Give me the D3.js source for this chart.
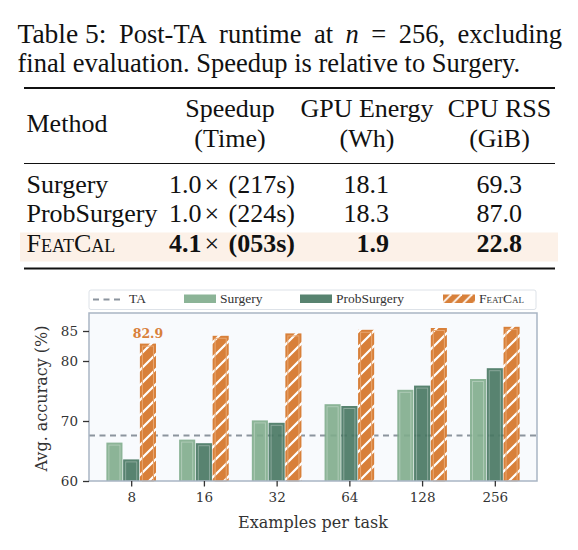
<!DOCTYPE html>
<html>
<head>
<meta charset="utf-8">
<script src="https://cdn.jsdelivr.net/npm/d3@7"></script>
<style>
  body { margin: 0; background: #fff; }
  svg { display: block; }
</style>
</head>
<body>
<script>
// ---- data ----
const groups = ['8', '16', '32', '64', '128', '256'];
const series = ['Surgery', 'ProbSurgery', 'FeatCal'];
const surgery = [66.4, 66.9, 70.1, 72.8, 75.2, 77.0];
const probSurgery = [63.6, 66.3, 69.7, 72.5, 75.9, 78.8];
const featCal = [82.9, 84.2, 84.6, 85.2, 85.5, 85.7];
const taLevel = 67.6;
const yTicks = [60, 70, 80, 85];

const tableHeader = [['Method'], ['Speedup', '(Time)'], ['GPU Energy', '(Wh)'], ['CPU RSS', '(GiB)']];
const tableRows = [
  ['Surgery', ['1.0', '(217s)'], '18.1', '69.3'],
  ['ProbSurgery', ['1.0', '(224s)'], '18.3', '87.0'],
  ['FeatCal', ['4.1', '(053s)'], '1.9', '22.8'],
];

const colors = { Surgery: '#7fac8c', ProbSurgery: '#467561', FeatCal: '#d8803a' };
const values = { Surgery: surgery, ProbSurgery: probSurgery, FeatCal: featCal };

const serif = '"Liberation Serif", "Times New Roman", serif';
const dserif = '"DejaVu Serif", serif';

const svg = d3.select('body').append('svg')
  .attr('width', 578)
  .attr('height', 550);

svg.append('rect').attr('width', 578).attr('height', 550).attr('fill', '#fff');

// ---- caption (first line justified like LaTeX) ----
const cap = svg.append('g').attr('font-family', serif).attr('fill', '#111').attr('font-size', 26.5);
const capWords = [
  { t: 'Table 5:', size: 27.5 },
  { t: 'Post-TA' }, { t: 'runtime' }, { t: 'at' },
  { t: 'n', italic: true }, { t: '=' }, { t: '256,' }, { t: 'excluding' },
];
const capStart = 17.5, capEnd = 562;
const wordEls = capWords.map(w => cap.append('text')
  .attr('y', 43)
  .attr('font-size', w.size || null)
  .attr('font-style', w.italic ? 'italic' : null)
  .text(w.t));
const widths = wordEls.map(el => el.node().getComputedTextLength());
const gap = (capEnd - capStart - d3.sum(widths)) / (capWords.length - 1);
let cx = capStart;
wordEls.forEach((el, i) => { el.attr('x', cx); cx += widths[i] + gap; });

cap.append('text').attr('x', capStart).attr('y', 71.5)
  .text('final evaluation. Speedup is relative to Surgery.');

// ---- table ----
const table = svg.append('g').attr('font-family', serif).attr('font-size', 26).attr('fill', '#111');
const colX = [26.5, 230, 367, 499.5];
const valX = [26.5, 295, 389, 522];
const rowY = [193.3, 221.7, 252.3];

table.append('rect')
  .attr('x', 20).attr('y', 232.5).attr('width', 538).attr('height', 29)
  .attr('fill', '#fcf1e8');

[[88, 2], [163.5, 1.2], [268.5, 2]].forEach(([yy, w]) => {
  table.append('line')
    .attr('x1', 24).attr('x2', 555).attr('y1', yy).attr('y2', yy)
    .attr('stroke', '#111').attr('stroke-width', w);
});

tableHeader.forEach((lines, i) => {
  if (lines.length === 1) {
    table.append('text').attr('x', colX[i]).attr('y', 131.7).text(lines[0]);
  } else {
    lines.forEach((t, j) => {
      table.append('text').attr('x', colX[i]).attr('y', j === 0 ? 117.3 : 146.5)
        .attr('text-anchor', 'middle').text(t);
    });
  }
});

tableRows.forEach((row, r) => {
  const last = r === tableRows.length - 1;
  row.forEach((cell, c) => {
    const el = table.append('text')
      .attr('x', valX[c]).attr('y', rowY[r])
      .attr('text-anchor', c === 0 ? 'start' : 'end');
    if (Array.isArray(cell)) {
      el.append('tspan').text(cell[0]);
      el.append('tspan').attr('dx', 3).attr('font-weight', 'normal').text('\u00d7');
      el.append('tspan').attr('dx', 3).text(' ' + cell[1]);
    } else {
      el.text(cell);
    }
    if (last && c === 0) el.style('font-variant', 'small-caps');
    if (last && c > 0) el.attr('font-weight', 'bold');
  });
});

// ---- chart ----
const plotL = 89, plotR = 537, plotT = 313, plotB = 481;

const x = d3.scalePoint().domain(groups).range([plotL, plotR]).padding(0.58);
const xs = d3.scaleBand().domain(series).range([-24.8, 24.8]).paddingInner(0.04);
const y = d3.scaleLinear().domain([60, 88]).range([plotB, plotT]);

const defs = svg.append('defs');
const hatch = defs.append('pattern')
  .attr('id', 'hatch').attr('patternUnits', 'userSpaceOnUse')
  .attr('width', 15).attr('height', 15);
hatch.append('rect').attr('width', 15).attr('height', 15).attr('fill', colors.FeatCal);
hatch.append('path')
  .attr('d', 'M-2,17 L17,-2 M-2,2 L2,-2 M13,17 L17,13')
  .attr('stroke', '#fff').attr('stroke-width', 2.2);

const hatchSmall = defs.append('pattern')
  .attr('id', 'hatchSmall').attr('patternUnits', 'userSpaceOnUse')
  .attr('width', 10.5).attr('height', 10.5);
hatchSmall.append('rect').attr('width', 10.5).attr('height', 10.5).attr('fill', colors.FeatCal);
hatchSmall.append('path')
  .attr('d', 'M-2,12.5 L12.5,-2')
  .attr('stroke', '#fff').attr('stroke-width', 1.8);

svg.append('rect')
  .attr('x', plotL).attr('y', plotT)
  .attr('width', plotR - plotL).attr('height', plotB - plotT)
  .attr('fill', '#f8fafd');

// TA reference line (behind bars)
svg.append('line')
  .attr('x1', plotL).attr('x2', plotR)
  .attr('y1', y(taLevel)).attr('y2', y(taLevel))
  .attr('stroke', '#8b949e').attr('stroke-width', 2)
  .attr('stroke-dasharray', '6,4.5');

const barData = [];
groups.forEach((g, i) => {
  series.forEach(s => barData.push({ g, s, v: values[s][i] }));
});

const bars = svg.append('g');
bars.selectAll('rect.bar')
  .data(barData)
  .enter()
  .append('rect')
  .attr('class', 'bar')
  .attr('x', d => x(d.g) + xs(d.s))
  .attr('y', d => y(d.v))
  .attr('width', xs.bandwidth())
  .attr('height', d => plotB - y(d.v))
  .attr('fill', d => d.s === 'FeatCal' ? 'url(#hatch)' : colors[d.s])
  .attr('fill-opacity', d => d.s === 'FeatCal' ? 1 : 0.9);

// inner light edge on each bar
bars.selectAll('rect.edge')
  .data(barData)
  .enter()
  .append('rect')
  .attr('class', 'edge')
  .attr('x', d => x(d.g) + xs(d.s) + 2.5)
  .attr('y', d => y(d.v) + 2.5)
  .attr('width', xs.bandwidth() - 5)
  .attr('height', d => plotB - y(d.v) - 2.5)
  .attr('fill', 'none')
  .attr('stroke', d => d.s === 'FeatCal' ? '#e8a670' : 'rgba(255,255,255,0.3)')
  .attr('stroke-width', 1);

// value label on the first FeatCal bar
svg.append('text')
  .attr('x', x(groups[0]) + xs('FeatCal') + xs.bandwidth() / 2)
  .attr('y', y(featCal[0]) - 6)
  .attr('text-anchor', 'middle')
  .attr('font-family', dserif).attr('font-size', 12.5).attr('font-weight', 'bold')
  .attr('fill', colors.FeatCal)
  .text(featCal[0].toFixed(1));

// spines
svg.append('rect')
  .attr('x', plotL).attr('y', plotT)
  .attr('width', plotR - plotL).attr('height', plotB - plotT)
  .attr('fill', 'none').attr('stroke', '#a9b5c4').attr('stroke-width', 1.5);

const yAxis = svg.append('g')
  .attr('transform', `translate(${plotL},0)`)
  .call(d3.axisLeft(y).tickValues(yTicks).tickSize(6).tickPadding(5));
const xAxis = svg.append('g')
  .attr('transform', `translate(0,${plotB})`)
  .call(d3.axisBottom(x).tickSize(5.5).tickPadding(6));

[yAxis, xAxis].forEach(a => {
  a.select('.domain').remove();
  a.selectAll('.tick line').attr('stroke', '#333').attr('stroke-width', 1.3);
  a.selectAll('.tick text')
    .attr('font-family', dserif).attr('font-size', 13.5).attr('fill', '#333');
});

svg.append('text')
  .attr('transform', 'translate(47,398.5) rotate(-90)')
  .attr('text-anchor', 'middle')
  .attr('font-family', dserif).attr('font-size', 16).attr('fill', '#333')
  .text('Avg. accuracy (%)');

svg.append('text')
  .attr('x', (plotL + plotR) / 2).attr('y', 528)
  .attr('text-anchor', 'middle')
  .attr('font-family', dserif).attr('font-size', 16).attr('fill', '#333')
  .text('Examples per task');

// ---- legend ----
const legend = svg.append('g').attr('font-family', serif).attr('font-size', 13.5).attr('fill', '#333');
legend.append('rect')
  .attr('x', plotL).attr('y', 290).attr('width', plotR - plotL - 1).attr('height', 19.5)
  .attr('rx', 2).attr('fill', '#fff').attr('stroke', '#dde2e8');

const legendX = [93, 184, 300, 443];
const legendKeys = ['TA'].concat(series);
legendKeys.forEach((k, i) => {
  const lx = legendX[i];
  if (k === 'TA') {
    legend.append('line')
      .attr('x1', lx).attr('x2', lx + 30).attr('y1', 299.5).attr('y2', 299.5)
      .attr('stroke', '#8b949e').attr('stroke-width', 2).attr('stroke-dasharray', '6,4.5');
  } else {
    legend.append('rect')
      .attr('x', lx).attr('y', 294.5).attr('width', 32).attr('height', 8.5)
      .attr('fill', k === 'FeatCal' ? 'url(#hatchSmall)' : colors[k])
      .attr('fill-opacity', k === 'FeatCal' ? 1 : 0.9);
  }
  legend.append('text')
    .attr('x', lx + 36)
    .attr('y', 303)
    .style('font-variant', k === 'FeatCal' ? 'small-caps' : null)
    .text(k);
});
</script>
</body>
</html>
